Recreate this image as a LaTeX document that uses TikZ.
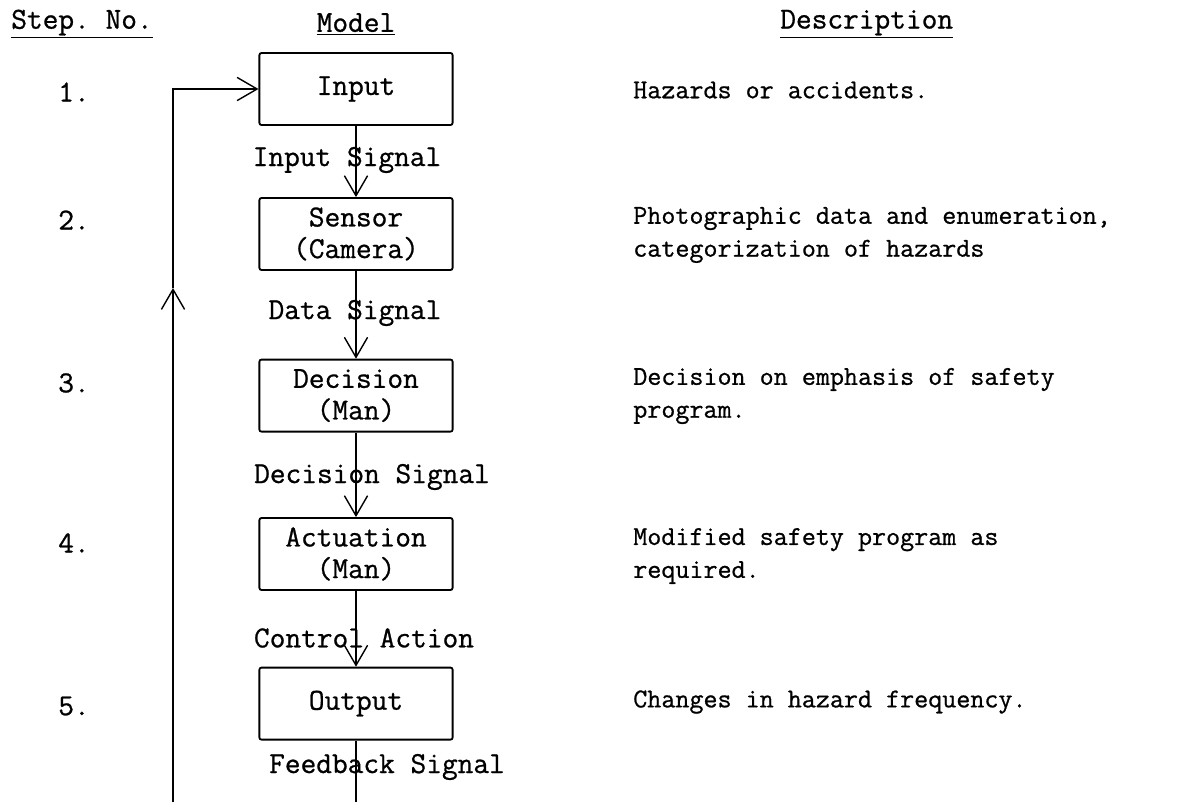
\documentclass[tikz,border=0pt]{standalone}
\usepackage{fontspec}
\setmonofont[FakeBold=0.8]{Latin Modern Mono}
\usetikzlibrary{arrows.meta}
\tikzset{
  khoi/.style={draw, line width=1.3pt, rounded corners=1.5pt, minimum width=4.83cm, minimum height=1.8cm, align=center, inner sep=0pt, font=\ttfamily\fontsize{21.7}{22.5}\selectfont},
  nhan/.style={inner sep=0pt, font=\ttfamily\fontsize{21.7}{22.5}\selectfont},
  mota/.style={anchor=west, align=left, inner sep=0pt, font=\ttfamily\fontsize{19.4}{23.4}\selectfont},
  muiten/.style={line width=1pt, -{Straight Barb[length=5mm,width=5.8mm]}}
}
\begin{document}
\begin{tikzpicture}
			\useasboundingbox (0,0) rectangle (29.5,-20.05);
			% Vẽ tiêu đề các cột
			\node[nhan] (tdbuoc) at (2.05,-0.6) {\underline{Step. No.}};
			\node[nhan] (tdmohinh) at (8.9,-0.6) {\underline{Model}};
			\node[nhan,anchor=west] (tdmota) at (19.5,-0.6) {\underline{Description}};
			% Vẽ số thứ tự các bước
			\node[nhan,anchor=west] (b1) at (1.45,-2.3) {1.};
			\node[nhan,anchor=west] (b2) at (1.45,-5.5) {2.};
			\node[nhan,anchor=west] (b3) at (1.45,-9.575) {3.};
			\node[nhan,anchor=west] (b4) at (1.45,-13.575) {4.};
			\node[nhan,anchor=west] (b5) at (1.45,-17.65) {5.};
			% Vẽ các khối của mô hình
			\node[khoi] (input) at (8.9,-2.225) {Input};
			\node[khoi] (sensor) at (8.9,-5.85) {Sensor\\(Camera)};
			\node[khoi] (decision) at (8.9,-9.89) {Decision\\(Man)};
			\node[khoi] (actuation) at (8.9,-13.85) {Actuation\\(Man)};
			\node[khoi] (output) at (8.9,-17.59) {Output};
			% Vẽ các mũi tên giữa các khối
			\draw[muiten] (input) -- (sensor);
			\draw[muiten] (sensor) -- (decision);
			\draw[muiten] (decision) -- (actuation);
			\draw[muiten] (actuation) -- (output);
			% Vẽ đường hồi tiếp
			\coordinate (fbcuoi) at (8.9,-20.05);
			\coordinate (fbtrai) at (4.325,-20.05);
			\coordinate (fbgiua) at (4.325,-7.2);
			\coordinate (fbgoc) at (4.325,-2.225);
			\draw[line width=1pt] (output) -- (fbcuoi);
			\draw[muiten] (fbtrai) -- (fbgiua);
			\draw[muiten] (fbgiua) -- (fbgoc) -- (input.west);
			% Đặt nhãn các tín hiệu
			\node[nhan] (lb1) at (8.675,-4.0) {Input Signal};
			\node[nhan] (lb2) at (8.875,-7.825) {Data Signal};
			\node[nhan] (lb3) at (9.3,-11.925) {Decision Signal};
			\node[nhan] (lb4) at (9.1,-15.95) {Control Action};
			\node[nhan] (lb5) at (9.675,-19.175) {Feedback Signal};
			% Đặt phần mô tả
			\node[mota] (m1) at (15.825,-2.25) {Hazards or accidents.};
			\node[mota] (m2) at (15.825,-5.875) {Photographic data and enumeration,\\categorization of hazards};
			\node[mota] (m3) at (15.825,-9.9) {Decision on emphasis of safety\\program.};
			\node[mota] (m4) at (15.825,-13.9) {Modified safety program as\\required.};
			\node[mota] (m5) at (15.825,-17.55) {Changes in hazard frequency.};
		\end{tikzpicture}
\end{document}
